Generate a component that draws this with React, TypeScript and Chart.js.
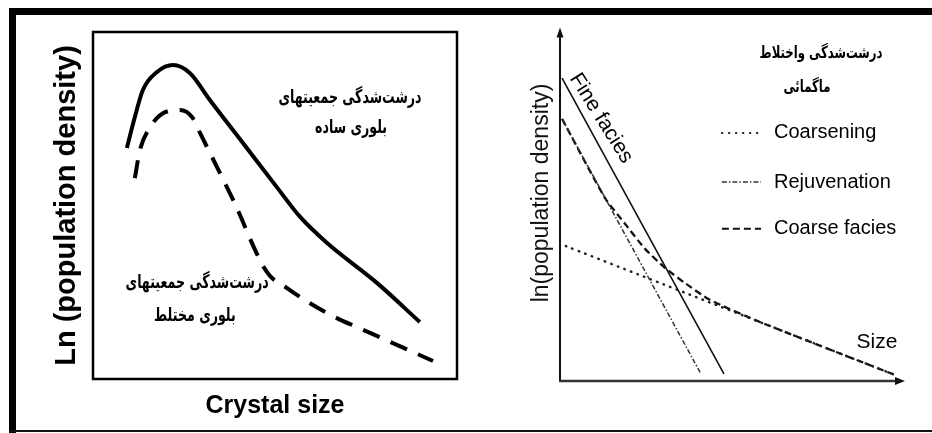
import React, { useEffect, useRef } from "react";
import { Chart, registerables } from "chart.js";

Chart.register(...registerables);

// ---------- Left panel data (axis 0..100 both ways) ----------
const leftSimpleX = [9.3, 11.5, 13.7, 17.6, 22.0, 26.6, 32.1, 41.2, 50.5, 56.9, 64.3, 78.0, 89.8];
const leftSimpleY = [66.6, 75.5, 83.3, 88.5, 90.5, 88.2, 80.4, 68.0, 55.3, 46.7, 39.2, 27.7, 16.4];
const leftMixedX = [11.5, 12.9, 15.7, 19.8, 23.9, 27.2, 29.4, 38.5, 47.8, 53.3, 64.3, 76.1, 93.4];
const leftMixedY = [57.9, 66.0, 72.6, 76.9, 77.5, 75.5, 70.9, 51.6, 30.8, 26.2, 19.0, 13.3, 5.2];

const leftXTitle = "Crystal size";
const leftYTitle = "Ln (population density)";
const leftNotes = [
  { text: "درشت‌شدگی جمعیتهای", x: 70.6, y: 81.0 },
  { text: "بلوری ساده", x: 70.9, y: 72.3 },
  { text: "درشت‌شدگی جمعیتهای", x: 28.6, y: 27.7 },
  { text: "بلوری مختلط", x: 28.0, y: 18.2 },
];

// ---------- Right panel data ----------
const fineX = [0.6, 47.8];
const fineY = [86.2, 2.0];
const rejuvX = [0.6, 41.1];
const rejuvY = [74.6, 2.0];
const coarseningX = [1.7, 97.7];
const coarseningY = [38.4, 1.7];
const coarseFaciesX = [0.6, 13.1, 19.0, 24.8, 30.6, 36.4, 43.7, 58.3, 97.7];
const coarseFaciesY = [74.6, 52.1, 44.7, 37.6, 32.2, 27.9, 23.1, 16.8, 1.7];

const rightYTitle = "ln(population density)";
const rightTitleLines = [
  { text: "درشت‌شدگی واختلاط", x: 76.1, y: 93.3 },
  { text: "ماگمائی", x: 72.0, y: 83.4 },
];
const legendRows = [
  { label: "Coarsening", y: 70.6 },
  { label: "Rejuvenation", y: 56.6 },
  { label: "Coarse facies", y: 43.3 },
];
const legendSampleX = [47.2, 58.6];
const legendTextX = 62.4;
const fineLabel = { text: "Fine facies", x: 12.0, y: 74.8, angle: 58 };
const sizeLabel = { text: "Size", x: 92.4, y: 11.1 };

const zip = (xs: number[], ys: number[]) => xs.map((x, i) => ({ x, y: ys[i] }));

const LATIN = "'Liberation Sans', Arial, sans-serif";
const PERSIAN = "'DejaVu Sans Condensed', 'DejaVu Sans', sans-serif";

const hiddenAxis = (min: number, max: number, title?: any) => ({
  type: "linear" as const,
  min,
  max,
  ticks: { display: false },
  grid: { display: false, drawTicks: false },
  border: { display: false },
  title: title || { display: false },
});

function drawPersian(ctx: CanvasRenderingContext2D, text: string, px: number, py: number, stretch: number) {
  ctx.save();
  ctx.translate(px, py);
  ctx.scale(1, stretch);
  ctx.textAlign = "center";
  ctx.textBaseline = "middle";
  (ctx as any).direction = "rtl";
  ctx.fillText(text, 0, 0);
  ctx.restore();
}

function leftConfig(): any {
  const boxPlugin = {
    id: "box",
    afterDatasetsDraw(chart: any) {
      const { ctx, chartArea: a } = chart;
      ctx.save();
      ctx.strokeStyle = "#000";
      ctx.lineWidth = 2.5;
      ctx.strokeRect(a.left, a.top, a.right - a.left, a.bottom - a.top);
      ctx.restore();
    },
  };
  const notesPlugin = {
    id: "notes",
    afterDraw(chart: any) {
      const { ctx } = chart;
      const { x, y } = chart.scales;
      ctx.save();
      ctx.font = `bold 14px ${PERSIAN}`;
      ctx.fillStyle = "#000";
      for (const n of leftNotes) drawPersian(ctx, n.text, x.getPixelForValue(n.x), y.getPixelForValue(n.y), 1.35);
      ctx.restore();
    },
  };
  return {
    type: "scatter",
    data: {
      datasets: [
        {
          label: "simple",
          data: zip(leftSimpleX, leftSimpleY),
          showLine: true,
          borderColor: "#000",
          borderWidth: 4,
          pointRadius: 0,
          cubicInterpolationMode: "monotone",
          fill: false,
        },
        {
          label: "mixed",
          data: zip(leftMixedX, leftMixedY),
          showLine: true,
          borderColor: "#000",
          borderWidth: 4,
          borderDash: [18, 12],
          pointRadius: 0,
          cubicInterpolationMode: "monotone",
          fill: false,
        },
      ],
    },
    options: {
      responsive: false,
      animation: false,
      events: [],
      layout: { padding: { left: 33.2, top: 17, right: 9, bottom: 9 } },
      plugins: { legend: { display: false }, tooltip: { enabled: false } },
      scales: {
        x: hiddenAxis(0, 100, {
          display: true,
          text: leftXTitle,
          color: "#000",
          font: { family: LATIN, size: 25, weight: "bold" },
          padding: { top: 12, bottom: 0 },
        }),
        y: hiddenAxis(0, 100, {
          display: true,
          text: leftYTitle,
          color: "#000",
          font: { family: LATIN, size: 29, weight: "bold" },
          padding: { top: 0, bottom: 9 },
        }),
      },
    },
    plugins: [boxPlugin, notesPlugin],
  };
}

function rightConfig(): any {
  const datasets = [
    {
      label: "Fine facies",
      data: zip(fineX, fineY),
      borderColor: "#111",
      borderWidth: 1.6,
    },
    {
      label: "Rejuvenation",
      data: zip(rejuvX, rejuvY),
      borderColor: "#333",
      borderWidth: 1.5,
      borderDash: [5, 2, 1.5, 2],
    },
    {
      label: "Coarsening",
      data: zip(coarseningX, coarseningY),
      borderColor: "#222",
      borderWidth: 2.5,
      borderDash: [0.5, 6.5],
      borderCapStyle: "round",
    },
    {
      label: "Coarse facies",
      data: zip(coarseFaciesX, coarseFaciesY),
      borderColor: "#111",
      borderWidth: 2.3,
      borderDash: [7, 4],
    },
  ].map((d) => ({ ...d, showLine: true, pointRadius: 0, tension: 0.2, fill: false }));

  const axesPlugin = {
    id: "arrows",
    beforeDatasetsDraw(chart: any) {
      const { ctx } = chart;
      const { x, y } = chart.scales;
      const x0 = x.getPixelForValue(0);
      const y0 = y.getPixelForValue(0);
      const yTop = y.getPixelForValue(100);
      const xEnd = x.getPixelForValue(100);
      ctx.save();
      ctx.strokeStyle = "#111";
      ctx.fillStyle = "#111";
      ctx.lineWidth = 2;
      ctx.beginPath();
      ctx.moveTo(x0, y0);
      ctx.lineTo(x0, yTop + 4);
      ctx.stroke();
      ctx.lineWidth = 2.6;
      ctx.strokeStyle = "#333";
      ctx.beginPath();
      ctx.moveTo(x0 - 1, y0);
      ctx.lineTo(xEnd - 4, y0);
      ctx.stroke();
      ctx.beginPath();
      ctx.moveTo(x0, yTop - 2);
      ctx.lineTo(x0 - 3.5, yTop + 8);
      ctx.lineTo(x0 + 3.5, yTop + 8);
      ctx.closePath();
      ctx.fill();
      ctx.beginPath();
      ctx.moveTo(xEnd + 2, y0);
      ctx.lineTo(xEnd - 8, y0 - 4);
      ctx.lineTo(xEnd - 8, y0 + 4);
      ctx.closePath();
      ctx.fill();
      ctx.restore();
    },
  };

  const textPlugin = {
    id: "texts",
    afterDraw(chart: any) {
      const { ctx } = chart;
      const { x, y } = chart.scales;
      ctx.save();
      ctx.fillStyle = "#000";
      ctx.textBaseline = "middle";
      // Persian title
      ctx.font = `bold 13px ${PERSIAN}`;
      for (const t of rightTitleLines) drawPersian(ctx, t.text, x.getPixelForValue(t.x), y.getPixelForValue(t.y), 1.3);
      // legend
      for (const row of legendRows) {
        const ds = chart.data.datasets.find((d: any) => d.label === row.label);
        const py = y.getPixelForValue(row.y);
        ctx.save();
        ctx.strokeStyle = ds.borderColor;
        ctx.lineWidth = Math.min(ds.borderWidth, 2);
        ctx.lineCap = ds.borderCapStyle || "butt";
        ctx.setLineDash(ds.borderDash || []);
        ctx.beginPath();
        ctx.moveTo(x.getPixelForValue(legendSampleX[0]), py);
        ctx.lineTo(x.getPixelForValue(legendSampleX[1]), py);
        ctx.stroke();
        ctx.restore();
        ctx.font = `20px ${LATIN}`;
        ctx.textAlign = "left";
        ctx.fillText(row.label, x.getPixelForValue(legendTextX), py);
      }
      // Size
      ctx.font = `21px ${LATIN}`;
      ctx.textAlign = "center";
      ctx.fillText(sizeLabel.text, x.getPixelForValue(sizeLabel.x), y.getPixelForValue(sizeLabel.y));
      // Fine facies rotated
      ctx.translate(x.getPixelForValue(fineLabel.x), y.getPixelForValue(fineLabel.y));
      ctx.rotate((fineLabel.angle * Math.PI) / 180);
      ctx.font = `21px ${LATIN}`;
      ctx.fillText(fineLabel.text, 0, 0);
      ctx.restore();
    },
  };

  return {
    type: "scatter",
    data: { datasets },
    options: {
      responsive: false,
      animation: false,
      events: [],
      layout: { padding: { left: 62.2, top: 5, right: 29, bottom: 52 } },
      plugins: { legend: { display: false }, tooltip: { enabled: false } },
      scales: {
        x: hiddenAxis(0, 100),
        y: hiddenAxis(0, 107, {
          display: true,
          text: rightYTitle,
          color: "#111",
          font: { family: LATIN, size: 23 },
          padding: { top: 0, bottom: 4.2 },
        }),
      },
    },
    plugins: [axesPlugin, textPlugin],
  };
}

export default function App() {
  const leftRef = useRef<HTMLCanvasElement>(null);
  const rightRef = useRef<HTMLCanvasElement>(null);
  useEffect(() => {
    const l = new Chart(leftRef.current!, leftConfig());
    const r = new Chart(rightRef.current!, rightConfig());
    return () => {
      l.destroy();
      r.destroy();
    };
  }, []);
  return (
    <div style={{ position: "absolute", left: 0, top: 0, width: 932, height: 433, background: "#fff", overflow: "hidden" }}>
      <canvas ref={leftRef} width={450} height={415} style={{ position: "absolute", left: 16, top: 15 }} />
      <canvas ref={rightRef} width={466} height={433} style={{ position: "absolute", left: 466, top: 0 }} />
      <div style={{ position: "absolute", left: 9, top: 8, width: 923, height: 7, background: "#000" }} />
      <div style={{ position: "absolute", left: 9, top: 8, width: 7, height: 425, background: "#000" }} />
      <div style={{ position: "absolute", left: 9, top: 430, width: 923, height: 2, background: "#111" }} />
    </div>
  );
}
